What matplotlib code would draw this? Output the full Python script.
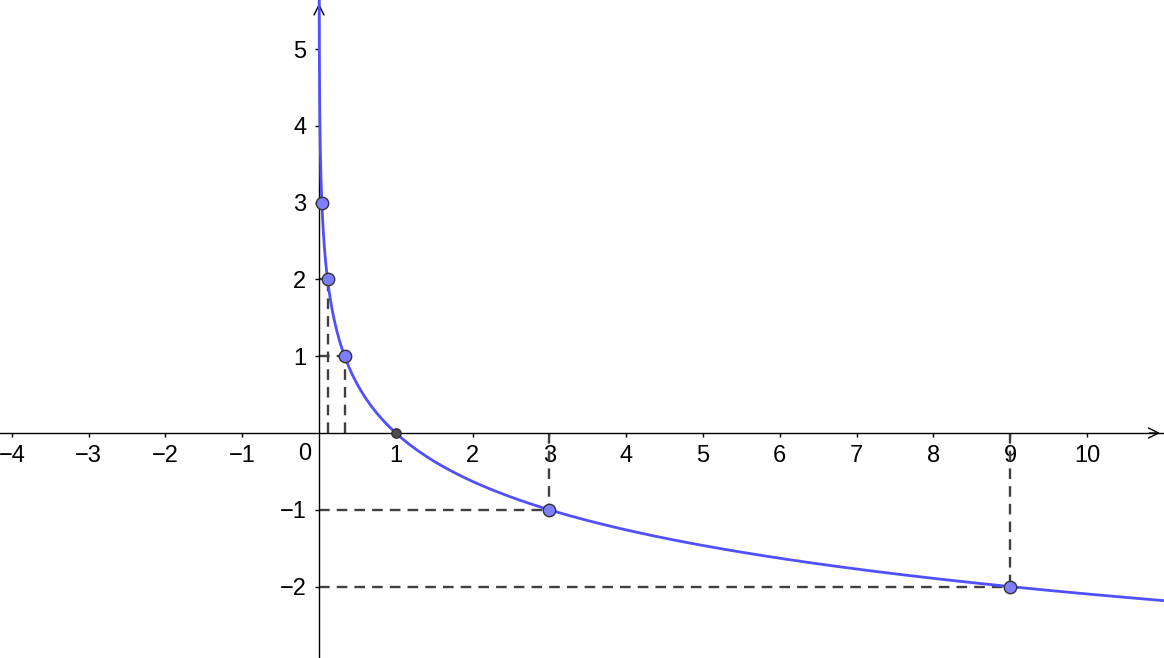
import numpy as np
import matplotlib.pyplot as plt

plt.rcParams['font.family'] = ['Liberation Sans', 'DejaVu Sans']

# points on y = log_{1/3}(x)
point_x = [1/27, 1/9, 1/3, 1, 3, 9]
point_y = [3, 2, 1, 0, -1, -2]
# points that get dashed projection lines to the axes
proj_x = [1/9, 1/3, 3, 9]
proj_y = [2, 1, -1, -2]

x_ticks = [-4, -3, -2, -1, 1, 2, 3, 4, 5, 6, 7, 8, 9, 10]
y_ticks = [-2, -1, 1, 2, 3, 4, 5]

fig = plt.figure(figsize=(11.64, 6.58), dpi=100)
ax = fig.add_axes([0, 0, 1, 1])
ax.set_xlim(-319 / 76.8, (1164 - 319) / 76.8)
ax.set_ylim(-(658 - 433) / 76.8, 433 / 76.8)

# axes through the origin
for s in ['top', 'right']:
    ax.spines[s].set_visible(False)
ax.spines['left'].set_position('zero')
ax.spines['bottom'].set_position('zero')
ax.spines['left'].set_linewidth(1)
ax.spines['bottom'].set_linewidth(1)

ax.set_xticks(x_ticks)
ax.set_yticks(y_ticks)
ax.set_xticklabels([str(t).replace('-', '\u2212') for t in x_ticks])
ax.set_yticklabels([str(t).replace('-', '\u2212') for t in y_ticks])
ax.tick_params(axis='x', direction='out', length=3, width=1, pad=6, labelsize=17)
ax.tick_params(axis='y', direction='out', length=3, width=1, pad=6, labelsize=17)
for lbl in ax.get_xticklabels() + ax.get_yticklabels():
    lbl.set_bbox(dict(facecolor='white', edgecolor='none', pad=1))
ax.text(-0.1, -0.13, '0', ha='right', va='top', fontsize=17)

# arrow heads
ax.annotate('', xy=(0.999, 0), xycoords=('axes fraction', 'data'),
            xytext=(0.985, 0), textcoords=('axes fraction', 'data'),
            arrowprops=dict(arrowstyle='->', lw=1, color='black', mutation_scale=18))
ax.annotate('', xy=(0, 0.999), xycoords=('data', 'axes fraction'),
            xytext=(0, 0.97), textcoords=('data', 'axes fraction'),
            arrowprops=dict(arrowstyle='->', lw=1, color='black', mutation_scale=18))

# dashed projections
for px, py in zip(proj_x, proj_y):
    ax.plot([px, px], [0, py], color='#404040', lw=1.7, ls=(0, (4.5, 3)), zorder=2)
    ax.plot([0, px], [py, py], color='#404040', lw=1.7, ls=(0, (4.5, 3)), zorder=2)

# the curve
xs = np.concatenate([np.geomspace(1e-4, 0.05, 400), np.linspace(0.05, 11.1, 4000)])
ax.plot(xs, -np.log(xs) / np.log(3), color='#5050ff', lw=2, zorder=3)

# points
ax.scatter(point_x[:3] + point_x[4:], point_y[:3] + point_y[4:], s=80,
           facecolor='#7d7dff', edgecolor='#333333', linewidth=1, zorder=4)
ax.scatter([point_x[3]], [point_y[3]], s=45, facecolor='#4d4d4d',
           edgecolor='#333333', linewidth=1, zorder=4)

fig.savefig('out.png', dpi=100)
